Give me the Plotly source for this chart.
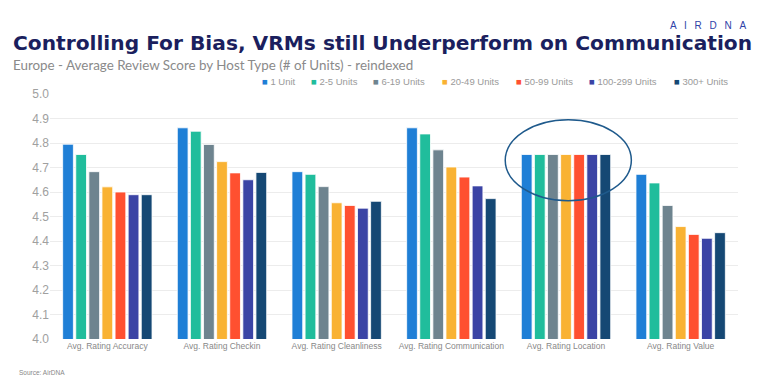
import plotly.graph_objects as go

categories = ["Avg. Rating Accuracy", "Avg. Rating Checkin", "Avg. Rating Cleanliness",
              "Avg. Rating Communication", "Avg. Rating Location", "Avg. Rating Value"]

series_names = ["1 Unit", "2-5 Units", "6-19 Units", "20-49 Units",
                "50-99 Units", "100-299 Units", "300+ Units"]

unit_1 = [4.795, 4.862, 4.683, 4.862, 4.753, 4.672]
units_2_5 = [4.753, 4.848, 4.672, 4.837, 4.753, 4.637]
units_6_19 = [4.683, 4.794, 4.622, 4.772, 4.753, 4.545]
units_20_49 = [4.621, 4.724, 4.556, 4.702, 4.753, 4.459]
units_50_99 = [4.600, 4.678, 4.545, 4.661, 4.753, 4.427]
units_100_299 = [4.589, 4.650, 4.534, 4.625, 4.753, 4.411]
units_300_plus = [4.589, 4.680, 4.562, 4.573, 4.753, 4.434]

series_values = [unit_1, units_2_5, units_6_19, units_20_49, units_50_99, units_100_299, units_300_plus]
colors = ["#1f7fd6", "#20bd9c", "#6e848f", "#f9b233", "#ff5030", "#3b44a5", "#154874"]

y_ticks = [4.0, 4.1, 4.2, 4.3, 4.4, 4.5, 4.6, 4.7, 4.8, 4.9, 5.0]

# layout (figure pixels; page body adds an 8px offset)
L, R, T, B = 42, 40, 86, 50
W, H = 770, 381
PW = W - L - R
legend_left_px = [252, 301, 363, 432, 506, 579, 664]  # left edge of each legend entry


def px_to_paper_x(px):
    return (px - L) / PW


fig = go.Figure()
for name, vals, col in zip(series_names, series_values, colors):
    fig.add_trace(go.Bar(
        x=categories, y=vals, name=name,
        marker=dict(color=col, line=dict(color="rgba(255,255,255,0.8)", width=1)),
    ))

fig.update_layout(
    width=W, height=H,
    paper_bgcolor="white", plot_bgcolor="white",
    margin=dict(l=L, r=R, t=T, b=B, autoexpand=False),
    barmode="group", bargap=0.2, bargroupgap=0.18,
    font=dict(family="Arial, Liberation Sans, sans-serif", color="#999999"),
    showlegend=False,
    xaxis=dict(type="category", showgrid=False, zeroline=False, showline=False,
               tickfont=dict(size=8.5, color="#888888"), ticks="", ticklen=0),
    yaxis=dict(range=[4.0, 5.0], tickvals=y_ticks, tickformat=".1f",
               showgrid=True, gridcolor="#ececec", gridwidth=1, zeroline=False,
               tickfont=dict(size=12, color="#a0a0a0"), ticks="", ticklabelstandoff=0),
)

# legend row
for name, col, lx in zip(series_names, colors, legend_left_px):
    fig.add_annotation(
        text=f"<span style='color:{col}'>■</span> {name}",
        xref="paper", yref="paper", x=px_to_paper_x(lx), xanchor="left",
        y=1.0, yshift=13, yanchor="middle", showarrow=False,
        font=dict(family="Arial, Liberation Sans, sans-serif", size=9.5, color="#9a9a9a"))

fig.add_shape(type="circle", xref="x", yref="y",
              x0=3.47, x1=4.57, y0=4.564, y1=4.895,
              line=dict(color="#1f5a8c", width=1.5), fillcolor="rgba(0,0,0,0)")

fig.add_annotation(text="<b>Controlling For Bias, VRMs still Underperform on Communication</b>",
                   xref="paper", yref="paper", x=px_to_paper_x(3), xanchor="left",
                   y=1.0, yshift=51, yanchor="middle", showarrow=False,
                   font=dict(family="DejaVu Sans, Open Sans, sans-serif", size=20.2, color="#1b1f5e"))
fig.add_annotation(text="Europe - Average Review Score by Host Type (# of Units) - reindexed",
                   xref="paper", yref="paper", x=px_to_paper_x(3), xanchor="left",
                   y=1.0, yshift=29, yanchor="middle", showarrow=False,
                   font=dict(family="Lato, Open Sans, sans-serif", size=13.4, color="#8a8a8a"))
fig.add_annotation(text="A \u2002I \u2002R \u2002D \u2002N \u2002A",
                   xref="paper", yref="paper", x=px_to_paper_x(740), xanchor="right",
                   y=1.0, yshift=69, yanchor="middle", showarrow=False,
                   font=dict(family="Arial, Liberation Sans, sans-serif", size=10, color="#2f43a8"))
fig.add_annotation(text="Source: AirDNA",
                   xref="paper", yref="paper", x=px_to_paper_x(9), xanchor="left",
                   y=0.0, yshift=-33, yanchor="middle", showarrow=False,
                   font=dict(family="Arial, Liberation Sans, sans-serif", size=6.5, color="#888888"))

fig.write_html("out.html")
